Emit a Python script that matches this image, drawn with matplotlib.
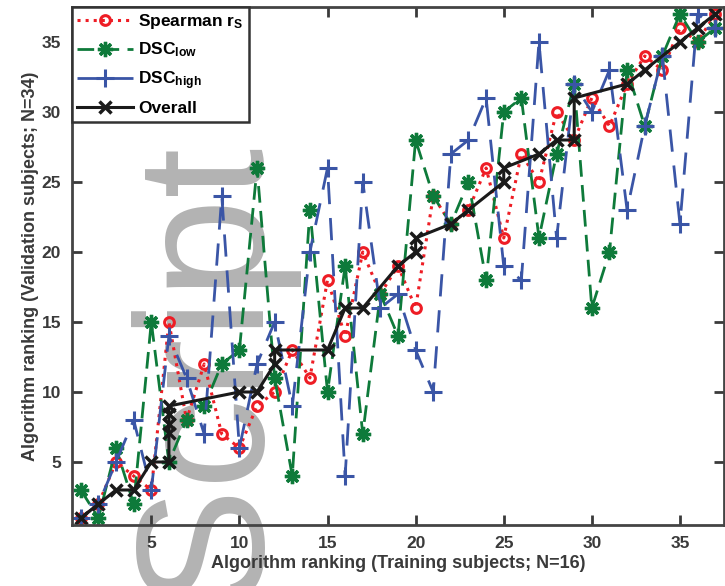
import numpy as np
import matplotlib
matplotlib.use("Agg")
import matplotlib.pyplot as plt

plt.rcParams['font.family'] = ['Liberation Sans', 'DejaVu Sans']
plt.rcParams['font.weight'] = 'bold'
plt.rcParams['mathtext.default'] = 'regular'

# Training rank (x) for every algorithm
rank_train = list(range(1, 38))

# Validation rank per metric
spearman = [1, 2, 5, 4, 3, 15, 8, 12, 7, 6, 9, 10, 13, 11, 18, 14, 20, 17, 19, 16,
            24, 22, 23, 26, 21, 27, 25, 30, 28, 31, 29, 32, 34, 33, 36, 35, 37]
dsc_low = [3, 1, 6, 2, 15, 5, 8, 9, 12, 13, 26, 11, 4, 23, 10, 19, 7, 17, 14, 28,
           24, 22, 25, 18, 30, 31, 21, 27, 32, 16, 20, 33, 29, 34, 37, 35, 36]
dsc_high = [1, 2, 5, 8, 3, 14, 11, 7, 24, 6, 12, 15, 9, 20, 26, 4, 25, 16, 17, 13,
            10, 27, 28, 31, 19, 18, 35, 21, 32, 30, 33, 23, 29, 34, 22, 37, 36]

# Overall ranking (ties give repeated x)
overall_x = [1, 2, 3, 4, 5, 6, 6, 6, 6, 6, 10, 11, 12, 12, 15, 16, 17, 19, 20, 20,
             22, 23, 25, 25, 27, 28, 29, 29, 32, 33, 35, 36, 37]
overall_y = [1, 2, 3, 3, 5, 5, 7.1, 7.7, 8.4, 9, 10, 10, 12, 13, 13, 16, 16, 19, 20, 21,
             22, 23, 25, 26, 27, 28, 28, 31, 32, 33, 35, 36, 37]

fig = plt.figure(figsize=(7.25, 5.86), dpi=100)
fig.patch.set_facecolor('white')
ax = fig.add_axes([72/725, 61/586, 652/725, 518/586])
ax.patch.set_alpha(0)

# grey watermark behind the axes, reading bottom to top
fig.text(256/725, -14/586, 'Script', rotation=90, rotation_mode='anchor',
         fontsize=130, fontweight='normal', color='#b3b3b3',
         ha='left', va='baseline', zorder=-1)

ax.plot(rank_train, spearman, ':', color='#ee1d25', lw=2.2, marker='o',
        mfc='none', mec='#ee1d25', ms=7, mew=2.2, label='Spearman r$_S$')
ax.plot(rank_train, dsc_low, color='#0e7a3a', lw=2, dashes=(6, 3), marker=(8, 2, 0),
        ms=11, mew=2.4, label='DSC$_{low}$')
ax.plot(rank_train, dsc_high, color='#3a55a6', lw=2, dashes=(8, 5), marker='+',
        ms=13, mew=2.2, label='DSC$_{high}$')
ax.plot(overall_x, overall_y, '-', color='#1a1a1a', lw=2.2, marker='x',
        ms=8, mew=2.5, label='Overall')

ax.set_xlim(0.5, 37.5)
ax.set_ylim(0.5, 37.5)
ax.set_xticks([5, 10, 15, 20, 25, 30, 35])
ax.set_yticks([5, 10, 15, 20, 25, 30, 35])
ax.tick_params(direction='in', length=7, width=2, top=True, right=True,
               labelsize=12.5, colors='#3a3a3a', pad=8)
for lab in ax.get_xticklabels() + ax.get_yticklabels():
    lab.set_fontweight('bold')
for s in ax.spines.values():
    s.set_linewidth(2)
    s.set_color('#444444')

ax.set_xlabel('Algorithm ranking (Training subjects; N=16)', fontsize=13,
              fontweight='bold', color='#3a3a3a', labelpad=3)
ax.set_ylabel('Algorithm ranking (Validation subjects; N=34)', fontsize=13,
              fontweight='bold', color='#3a3a3a', labelpad=2)

leg = ax.legend(loc='upper left', borderaxespad=0, fancybox=False, framealpha=1,
                edgecolor='#333333', fontsize=12.5, handlelength=3.2,
                labelspacing=0.55, borderpad=0.3, handletextpad=0.3)
leg.get_frame().set_linewidth(1.8)
for t in leg.get_texts():
    t.set_fontweight('bold')

fig.savefig('out.png', dpi=100)
